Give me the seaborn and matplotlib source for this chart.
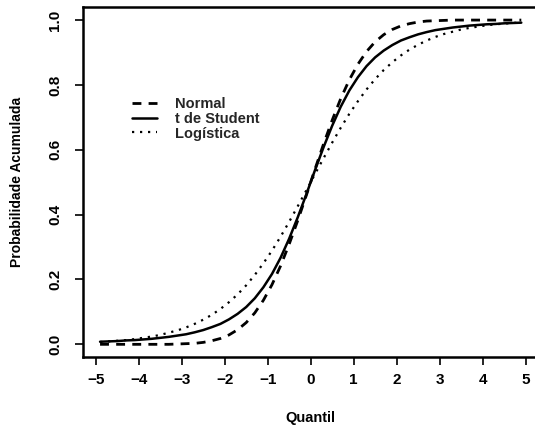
import matplotlib
matplotlib.use("Agg")
import matplotlib.pyplot as plt
import seaborn as sns
import pandas as pd

# Quantile grid and cumulative probabilities of the three distributions
quantis = [-4.9, -4.7, -4.5, -4.3, -4.1, -3.9, -3.7, -3.5, -3.3, -3.1,
           -2.9, -2.7, -2.5, -2.3, -2.1, -1.9, -1.7, -1.5, -1.3, -1.1,
           -0.9, -0.7, -0.5, -0.3, -0.1, 0.1, 0.3, 0.5, 0.7, 0.9,
           1.1, 1.3, 1.5, 1.7, 1.9, 2.1, 2.3, 2.5, 2.7, 2.9,
           3.1, 3.3, 3.5, 3.7, 3.9, 4.1, 4.3, 4.5, 4.7, 4.9]

prob_normal = [0.000, 0.000, 0.000, 0.000, 0.000, 0.000, 0.000, 0.000, 0.000, 0.001,
               0.002, 0.003, 0.006, 0.011, 0.018, 0.029, 0.045, 0.067, 0.097, 0.136,
               0.184, 0.242, 0.309, 0.382, 0.460, 0.540, 0.618, 0.691, 0.758, 0.816,
               0.864, 0.903, 0.933, 0.955, 0.971, 0.982, 0.989, 0.994, 0.997, 0.998,
               0.999, 1.000, 1.000, 1.000, 1.000, 1.000, 1.000, 1.000, 1.000, 1.000]

prob_student = [0.008, 0.009, 0.010, 0.012, 0.013, 0.015, 0.017, 0.020, 0.023, 0.027,
                0.031, 0.037, 0.044, 0.053, 0.063, 0.077, 0.094, 0.115, 0.142, 0.176,
                0.217, 0.267, 0.326, 0.392, 0.463, 0.537, 0.608, 0.674, 0.733, 0.783,
                0.824, 0.858, 0.885, 0.906, 0.923, 0.937, 0.947, 0.956, 0.963, 0.969,
                0.973, 0.977, 0.980, 0.983, 0.985, 0.987, 0.988, 0.990, 0.991, 0.992]

prob_logistica = [0.007, 0.009, 0.011, 0.013, 0.016, 0.020, 0.024, 0.029, 0.036, 0.043,
                  0.052, 0.063, 0.076, 0.091, 0.109, 0.130, 0.154, 0.182, 0.214, 0.250,
                  0.289, 0.332, 0.378, 0.426, 0.475, 0.525, 0.574, 0.622, 0.668, 0.711,
                  0.750, 0.786, 0.818, 0.846, 0.870, 0.891, 0.909, 0.924, 0.937, 0.948,
                  0.957, 0.964, 0.971, 0.976, 0.980, 0.984, 0.987, 0.989, 0.991, 0.993]

nomes = ["Normal", "t de Student", "Logística"]
x_ticks = [-5, -4, -3, -2, -1, 0, 1, 2, 3, 4, 5]
y_ticks = [0.0, 0.2, 0.4, 0.6, 0.8, 1.0]

sns.set_theme(style="white")
plt.rcParams["font.family"] = ["Liberation Sans", "DejaVu Sans"]
plt.rcParams["font.weight"] = "bold"
plt.rcParams["axes.unicode_minus"] = True

fig = plt.figure(figsize=(5.35, 4.28), dpi=100)
fig.patch.set_facecolor("white")
ax = fig.add_axes([0.1557, 0.1652, 0.850, 0.8182])
ax.set_facecolor("white")

df = pd.DataFrame({"Quantil": quantis,
                   nomes[0]: prob_normal,
                   nomes[1]: prob_student,
                   nomes[2]: prob_logistica})

estilos = {
    nomes[0]: dict(linestyle=(0, (3.2, 2.6)), linewidth=2.0),
    nomes[1]: dict(linestyle="-", linewidth=1.8),
    nomes[2]: dict(linestyle=(0, (1.0, 2.6)), linewidth=1.6),
}

for nome in nomes:
    sns.lineplot(data=df, x="Quantil", y=nome, ax=ax, color="black",
                 label=nome, **estilos[nome])

ax.set_xlim(-5.29, 5.29)
ax.set_ylim(-0.04, 1.04)
ax.set_xticks(x_ticks)
ax.set_xticklabels([f"{v}".replace("-", "\u2212") for v in x_ticks])
ax.set_yticks(y_ticks)
ax.set_yticklabels([f"{v:.1f}" for v in y_ticks])

for s in ax.spines.values():
    s.set_visible(True)
    s.set_color("black")
    s.set_linewidth(1.8)

ax.tick_params(axis="both", direction="out", length=5.5, width=1.2,
               color="black", labelsize=11, labelcolor="black")
ax.tick_params(axis="x", pad=6, bottom=True)
ax.tick_params(axis="y", pad=9.5, left=True, labelrotation=90)
for lab in ax.get_yticklabels():
    lab.set_va("center")
    lab.set_fontweight("bold")
for lab in ax.get_xticklabels():
    lab.set_fontweight("bold")

ax.set_xlabel("Quantil", fontsize=10.5, fontweight="bold", color="black")
ax.set_ylabel("Probabilidade Acumulada", fontsize=10, fontweight="bold", color="black")
ax.xaxis.label.set_va("center")
ax.xaxis.set_label_coords(0.5, -0.173)
ax.yaxis.label.set_va("center")
ax.yaxis.set_label_coords(-0.146, 0.5)

ax.legend(loc="upper left", bbox_to_anchor=(0.1064, 0.743), frameon=False,
          handlelength=1.75, handletextpad=1.2, borderpad=0, borderaxespad=0,
          labelspacing=0.05, prop={"family": "Liberation Sans", "weight": "bold", "size": 10.5})

fig.savefig("out.png", dpi=100, facecolor="white")
